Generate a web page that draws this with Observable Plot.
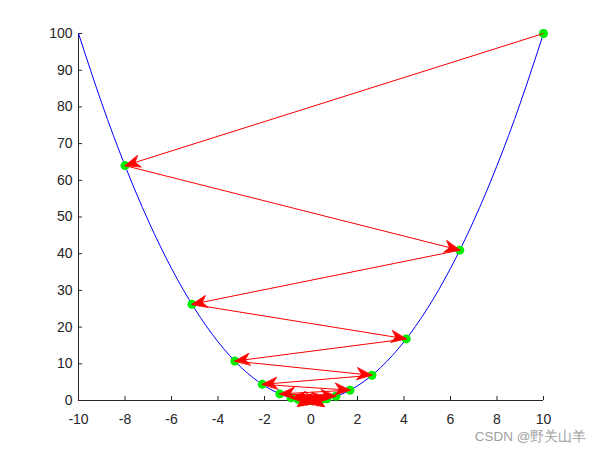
<!DOCTYPE html>
<html><head><meta charset="utf-8">
<script src="https://cdn.jsdelivr.net/npm/d3@7"></script>
<script src="https://cdn.jsdelivr.net/npm/@observablehq/plot@0.6"></script>
<style>body{margin:0;background:#fff}</style>
</head><body><div id="chart"></div>
<script>
// parabola samples y = x^2
const curveX = [-10,-9,-8,-7,-6,-5,-4,-3,-2,-1,0,1,2,3,4,5,6,7,8,9,10];
const curveY = [100,81,64,49,36,25,16,9,4,1,0,1,4,9,16,25,36,49,64,81,100];
// gradient descent iterates
const stepX = [10,-8,6.4,-5.12,4.096,-3.277,2.621,-2.097,1.678,-1.342,1.074,-0.859,0.687,-0.550,0.440,-0.352,0.281,-0.225,0.180,-0.144,0.115,-0.092,0.074,-0.059,0.047];
const stepY = [100,64,40.96,26.21,16.78,10.74,6.87,4.40,2.81,1.80,1.15,0.74,0.47,0.30,0.19,0.12,0.08,0.05,0.03,0.02,0.013,0.008,0.005,0.003,0.002];
const xTicks = [-10,-8,-6,-4,-2,0,2,4,6,8,10];
const yTicks = [0,10,20,30,40,50,60,70,80,90,100];

const curve = curveX.map((x,i)=>({x, y: curveY[i]}));
const pts = stepX.map((x,i)=>({x, y: stepY[i]}));
const arrows = pts.slice(0,-1).map((p,i)=>({x1:p.x, y1:p.y, x2:pts[i+1].x, y2:pts[i+1].y}));

const base = {
  width: 600, height: 450,
  marginLeft: 78, marginRight: 57, marginTop: 33, marginBottom: 50,
  style: {fontFamily: "'Liberation Sans', Arial, sans-serif", fontSize: "14px", color: "#262626", background: "#fff"},
  x: {domain: [-10, 10]},
  y: {domain: [0, 100]}
};

// first pass: obtain the scales to orient the arrowheads in screen space
const probe = Plot.plot({...base, marks: [Plot.dot(pts, {x: "x", y: "y"})]});
const sx = probe.scale("x"), sy = probe.scale("y");
arrows.forEach(a => {
  const dx = sx.apply(a.x2) - sx.apply(a.x1);
  const dy = sy.apply(a.y2) - sy.apply(a.y1);
  a.rot = Math.atan2(dx, -dy) * 180 / Math.PI;
});

const head = {
  draw(ctx, l, r) {
    const w = 6;
    ctx.moveTo(0, -l);
    ctx.lineTo(w, 0);
    ctx.lineTo(0, -l * 0.3);
    ctx.lineTo(-w, 0);
    ctx.closePath();
  }
};

const chart = Plot.plot({
  ...base,
  marks: [
    Plot.axisX({ticks: xTicks, tickSize: -4, tickPadding: 18, label: null, stroke: "#262626", tickFormat: d => String(d)}),
    Plot.axisY({ticks: yTicks, tickSize: -4, tickPadding: 10, label: null, stroke: "#262626", tickFormat: d => String(d)}),
    Plot.ruleX([-10], {stroke: "#262626"}),
    Plot.ruleY([0], {stroke: "#262626"}),
    Plot.line(curve, {x: "x", y: "y", curve: "natural", stroke: "#0000ff", strokeWidth: 1}),
    Plot.dot(pts, {x: "x", y: "y", r: 4.5, fill: "#00ee00", stroke: "none"}),
    Plot.link(arrows, {x1: "x1", y1: "y1", x2: "x2", y2: "y2", stroke: "#ff0000", strokeWidth: 1}),
    Plot.vector(arrows, {x: "x2", y: "y2", rotate: "rot", length: 15, anchor: "end", shape: head, fill: "#ff0000", stroke: "#ff0000", strokeWidth: 0.8}),
    Plot.text(["CSDN @野关山羊"], {frameAnchor: "bottom-right", dx: 43, dy: 40, fill: "#a0a0a0", fontSize: 13.5, textAnchor: "end"})
  ]
});
document.getElementById("chart").appendChild(chart);
</script>
</body></html>
